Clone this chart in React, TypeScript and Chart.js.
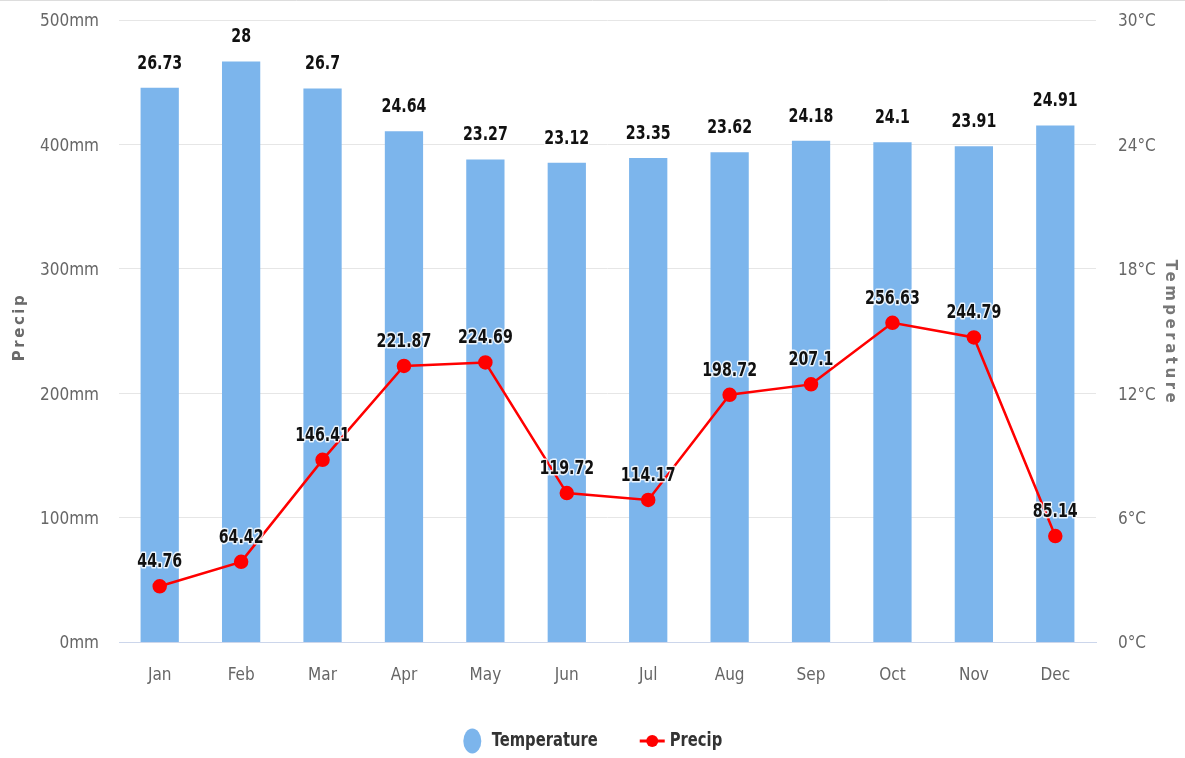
import React, { useEffect, useRef } from "react";
import { Chart, registerables } from "chart.js";

Chart.register(...registerables);

const months = ["Jan", "Feb", "Mar", "Apr", "May", "Jun", "Jul", "Aug", "Sep", "Oct", "Nov", "Dec"];
const temperature = [26.73, 28, 26.7, 24.64, 23.27, 23.12, 23.35, 23.62, 24.18, 24.1, 23.91, 24.91];
const precip = [44.76, 64.42, 146.41, 221.87, 224.69, 119.72, 114.17, 198.72, 207.1, 256.63, 244.79, 85.14];
const precipTickStep = 100;
const precipMax = 500;
const tempTickStep = 6;
const tempMax = 30;
const tempLabel = "Temperature";
const precipLabel = "Precip";

const COND = '"DejaVu Sans Condensed", "DejaVu Sans", sans-serif';
const BAR_COLOR = "#7cb5ec";
const LINE_COLOR = "#ff0000";

function drawScaledText(ctx: any, text: string, x: number, y: number, sx: number, outline: boolean) {
  ctx.save();
  ctx.translate(x, y);
  ctx.scale(sx, 1);
  if (outline) {
    ctx.lineJoin = "round";
    ctx.lineWidth = 3;
    ctx.strokeStyle = "rgba(255,255,255,0.85)";
    ctx.strokeText(text, 0, 0);
  }
  ctx.fillText(text, 0, 0);
  ctx.restore();
}

const dataLabels = {
  id: "dataLabels",
  afterDatasetsDraw(chart: any) {
    const ctx = chart.ctx;
    ctx.save();
    ctx.font = `bold 19px ${COND}`;
    ctx.textAlign = "center";
    ctx.textBaseline = "middle";
    ctx.fillStyle = "#111";
    chart.data.datasets.forEach((ds: any, i: number) => {
      const meta = chart.getDatasetMeta(i);
      meta.data.forEach((el: any, j: number) => {
        const v = ds.data[j];
        const { x, y } = el.getProps(["x", "y"], true);
        drawScaledText(ctx, String(v), x, y - 24, 0.83, true);
      });
    });
    ctx.restore();
  },
};

const decorations = {
  id: "decorations",
  beforeDraw(chart: any) {
    const ctx = chart.ctx;
    ctx.save();
    ctx.strokeStyle = "#dddddd";
    ctx.lineWidth = 1;
    ctx.beginPath();
    ctx.moveTo(0, 0.5);
    ctx.lineTo(chart.width, 0.5);
    ctx.stroke();
    ctx.restore();
  },
  afterDraw(chart: any) {
    const ctx = chart.ctx;
    const ca = chart.chartArea;
    const cy = (ca.top + ca.bottom) / 2;
    // axis titles
    ctx.save();
    ctx.font = 'bold 15px "DejaVu Sans", sans-serif';
    (ctx as any).letterSpacing = "2.5px";
    ctx.textAlign = "center";
    ctx.textBaseline = "middle";
    ctx.fillStyle = "#6a6a6a";
    ctx.save();
    ctx.translate(20, cy - 4);
    ctx.rotate(-Math.PI / 2);
    ctx.fillText(precipLabel, 0, 0);
    ctx.restore();
    (ctx as any).letterSpacing = "3.5px";
    ctx.fillStyle = "#777";
    ctx.save();
    ctx.translate(1170, cy + 2);
    ctx.rotate(Math.PI / 2);
    ctx.fillText(tempLabel, 0, 0);
    ctx.restore();
    ctx.restore();

    // legend
    const ds = chart.data.datasets;
    ctx.save();
    ctx.font = `bold 20px ${COND}`;
    ctx.textBaseline = "middle";
    ctx.textAlign = "left";
    ctx.fillStyle = "#333";
    const sx = 0.82;
    const t1 = ds[0].label;
    const t2 = ds[1].label;
    const w1 = ctx.measureText(t1).width * sx;
    const w2 = ctx.measureText(t2).width * sx;
    const total = 19 + 10 + w1 + 42 + 25 + 5 + w2;
    let x = chart.width / 2 - total / 2;
    const ly = 741;
    ctx.fillStyle = BAR_COLOR;
    ctx.beginPath();
    ctx.ellipse(x + 9.5, ly, 9, 12.5, 0, 0, Math.PI * 2);
    ctx.fill();
    x += 19 + 10;
    ctx.fillStyle = "#333";
    drawScaledText(ctx, t1, x, ly, sx, false);
    x += w1 + 42;
    ctx.strokeStyle = LINE_COLOR;
    ctx.lineWidth = 3;
    ctx.beginPath();
    ctx.moveTo(x, ly);
    ctx.lineTo(x + 25, ly);
    ctx.stroke();
    ctx.fillStyle = LINE_COLOR;
    ctx.beginPath();
    ctx.arc(x + 12.5, ly, 6, 0, Math.PI * 2);
    ctx.fill();
    x += 25 + 5;
    ctx.fillStyle = "#333";
    drawScaledText(ctx, t2, x, ly, sx, false);
    ctx.restore();
  },
};

export default function App() {
  const ref = useRef<HTMLCanvasElement | null>(null);

  useEffect(() => {
    document.body.style.margin = "0";
    if (!ref.current) return;
    const chart = new Chart(ref.current, {
      type: "bar",
      data: {
        labels: months,
        datasets: [
          {
            type: "bar",
            label: tempLabel,
            data: temperature,
            backgroundColor: BAR_COLOR,
            yAxisID: "yT",
            order: 1,
            barPercentage: 0.47,
            categoryPercentage: 1,
          } as any,
          {
            type: "line",
            label: precipLabel,
            data: precip,
            borderColor: LINE_COLOR,
            backgroundColor: LINE_COLOR,
            borderWidth: 2.5,
            pointRadius: 6,
            pointBackgroundColor: LINE_COLOR,
            pointBorderColor: LINE_COLOR,
            yAxisID: "yP",
            order: 0,
            tension: 0,
          } as any,
        ],
      },
      options: {
        animation: false,
        responsive: false,
        maintainAspectRatio: false,
        layout: { padding: { top: 20, left: 0, right: 0, bottom: 56 } },
        plugins: {
          tooltip: { enabled: false },
          legend: { display: false },
        },
        scales: {
          x: {
            grid: { display: false, drawTicks: false },
            border: { display: true, color: "#ccd6eb", width: 1 },
            ticks: { color: "#666", padding: 23, font: { family: COND, size: 17 } },
            afterFit: (s: any) => {
              s.height = 60;
              s.paddingLeft = 0;
              s.paddingRight = 0;
            },
          },
          yP: {
            type: "linear",
            position: "left",
            min: 0,
            max: precipMax,
            grid: { color: "#e6e6e6", drawTicks: false },
            border: { display: false },
            ticks: {
              stepSize: precipTickStep,
              color: "#666",
              padding: 20,
              labelOffset: 2,
              font: { family: COND, size: 17 },
              callback: (v: any) => `${v}mm`,
            },
            afterFit: (s: any) => {
              s.width = 119;
              s.paddingTop = 0;
              s.paddingBottom = 0;
            },
          },
          yT: {
            type: "linear",
            position: "right",
            min: 0,
            max: tempMax,
            grid: { display: false, drawTicks: false },
            border: { display: false },
            ticks: {
              stepSize: tempTickStep,
              color: "#666",
              padding: 22,
              labelOffset: 2,
              font: { family: COND, size: 17 },
              callback: (v: any) => `${v}°C`,
            },
            afterFit: (s: any) => {
              s.width = 89;
              s.paddingTop = 0;
              s.paddingBottom = 0;
            },
          },
        },
      },
      plugins: [dataLabels, decorations],
    });
    return () => chart.destroy();
  }, []);

  return (
    <div style={{ width: 1185, height: 758 }}>
      <canvas ref={ref} width={1185} height={758} style={{ display: "block" }} />
    </div>
  );
}
